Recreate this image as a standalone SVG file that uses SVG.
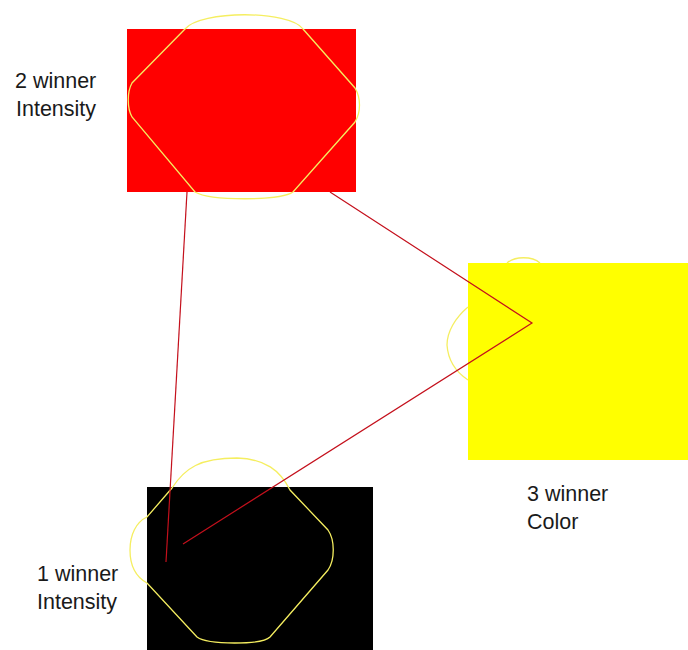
<svg xmlns="http://www.w3.org/2000/svg" width="688" height="650" viewBox="0 0 688 650">
<style>
.lbl{font-family:"Liberation Sans",Arial,sans-serif;font-size:21.5px;fill:#1a1a1a}
.blob{fill:none;stroke:#f5ee60;stroke-width:1.3}
.conn{fill:none;stroke:#c4101c;stroke-width:1.2}
</style>
<rect width="688" height="650" fill="#ffffff"/>
<g id="node2">
<rect x="127" y="29" width="229" height="163" fill="#ff0000"/>
<path class="blob" d="M185,29 C200,10 290,10 303,29 L355,88 C361,98 361,112 355,122 L293,192 C280,201 210,201 195,192 L132,117 C127,108 127,92 132,83 Z"/>
<text class="lbl" x="15" y="88">2 winner</text>
<text class="lbl" x="16" y="116">Intensity</text>
</g>
<g id="node3">
<rect x="468" y="263" width="220" height="197" fill="#ffff00"/>
<path class="blob" d="M507,263 C515,256 532,256 540,263"/>
<path class="blob" d="M468,307 C455,318 447,332 447,345 C448,360 456,372 468,380"/>
<text class="lbl" x="527" y="501">3 winner</text>
<text class="lbl" x="527" y="529">Color</text>
</g>
<g id="node1">
<rect x="147" y="487" width="226" height="163" fill="#000000"/>
<path class="blob" d="M172,488 C185,468 200,458 237,458 C265,459 280,470 290,490 L328,530 C335,540 335,560 328,570 L270,637 C262,645 208,645 197,637 L147,583 C136,577 130,565 130,550 C130,535 136,522 147,517 Z"/>
<text class="lbl" x="37" y="581">1 winner</text>
<text class="lbl" x="37" y="609">Intensity</text>
</g>
<g id="connectors">
<line class="conn" x1="187" y1="192" x2="166" y2="562"/>
<polyline class="conn" points="330,192 532,323 183,544"/>
</g>
</svg>
